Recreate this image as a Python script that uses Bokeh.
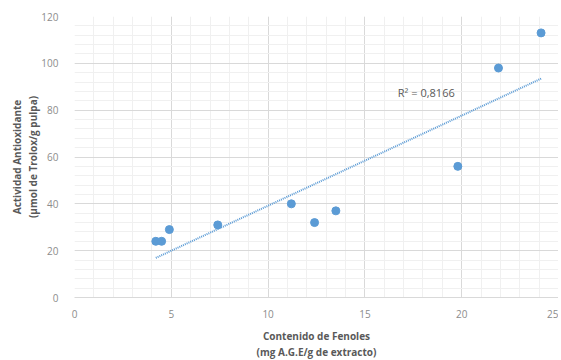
import numpy as np
from bokeh.plotting import figure
from bokeh.models import ColumnDataSource, Range1d, SingleIntervalTicker
from bokeh.core.properties import value
from bokeh.embed import file_html
from bokeh.resources import INLINE

# Data
fenoles = [4.2, 4.5, 4.9, 7.4, 11.2, 12.4, 13.5, 19.8, 21.9, 24.1]
actividad = [24, 24, 29, 31, 40, 32, 37, 56, 98, 113]
r2_label = "R² = 0,8166"
x_title = "Contenido de Fenoles\n(mg A.G.E/g de extracto)"
y_title = "Actividad Antioxidante\n(µmol de Trolox/g pulpa)"

FONT = "Open Sans"

p = figure(frame_width=484, frame_height=281, output_backend="svg", toolbar_location=None,
           x_range=Range1d(0, 25), y_range=Range1d(0, 120),
           min_border_left=74, min_border_right=0, min_border_top=16, min_border_bottom=54)
p.outline_line_color = None

p.xaxis.ticker = SingleIntervalTicker(interval=5, num_minor_ticks=5)
p.yaxis.ticker = SingleIntervalTicker(interval=20, num_minor_ticks=5)

for ax in (p.xaxis, p.yaxis):
    ax.major_tick_line_color = None
    ax.minor_tick_line_color = None
    ax.major_label_text_color = "#8c8c8c"
    ax.major_label_text_font = FONT
    ax.major_label_text_font_size = "10px"
    ax.axis_label_text_font = FONT
    ax.axis_label_text_font_size = "10px"
    ax.axis_label_text_font_style = "bold"
    ax.axis_label_text_color = "#595959"
    ax.axis_label_text_line_height = 1.15

p.xaxis.axis_line_color = "#d9d9d9"
p.yaxis.axis_line_color = None
p.xaxis.major_label_standoff = 6
p.yaxis.major_label_standoff = 10
p.xaxis.axis_label_standoff = 8
p.yaxis.axis_label_standoff = -2
p.xaxis.axis_label = x_title
p.yaxis.axis_label = y_title

p.grid.grid_line_color = "#d9d9d9"
p.grid.minor_grid_line_color = "#f0f0f0"

# Trendline (least squares)
slope, intercept = np.polyfit(fenoles, actividad, 1)
tx = [min(fenoles), max(fenoles)]
ty = [slope * v + intercept for v in tx]
p.line(tx, ty, line_color="#5b9bd5", line_width=2, line_dash="1 1")

src = ColumnDataSource(dict(x=fenoles, y=actividad))
p.scatter("x", "y", source=src, size=8, fill_color="#5b9bd5", line_color="#5b9bd5")

p.text(x=[16.7], y=[87.5], text=[r2_label], text_font=value(FONT), text_font_size="11px",
       text_color="#595959", text_align="left", text_baseline="middle")

open("out.html", "w").write(file_html(p, INLINE))
